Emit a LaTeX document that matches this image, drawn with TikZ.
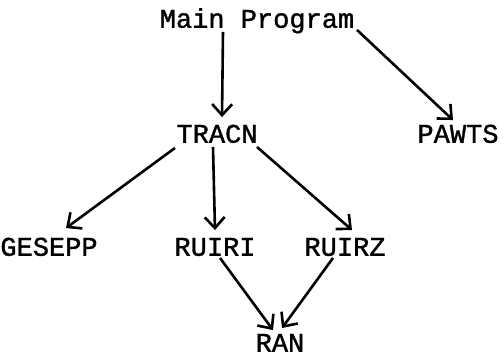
\documentclass[tikz,border=0pt]{standalone}
\usepackage{fontspec}
\newfontfamily\tw{Liberation Mono}[UprightFeatures={FakeBold=1.3}]
\usetikzlibrary{arrows.meta,calc}
\begin{document}
\begin{tikzpicture}[x=1pt,y=-1pt,
  lbl/.style={inner sep=0pt,text height=15.5pt,text depth=0pt,font=\tw\fontsize{27}{30}\selectfont},
  conn/.style={line width=2.6pt,-{Straight Barb[length=11pt,width=20pt,line width=2.6pt]}}]
\useasboundingbox (0,0) rectangle (504,357);
\node[lbl] (main) at (257,20) {Main Program};
\node[lbl] (tracn) at (217,135) {TRACN};
\node[lbl] (pawts) at (458,135) {PAWTS};
\node[lbl] (gesepp) at (49,248) {GESEPP};
\node[lbl] (ruiri) at (215,248) {RUIRI};
\node[lbl] (ruirz) at (345,248) {RUIRZ};
\node[lbl] (ran) at (280,344) {RAN};
\draw[conn] ($(main.south)+(-34,4)$) -- ($(tracn.north)+(5,-10)$);
\draw[conn] ($(main.south)+(100,2)$) -- ($(pawts.north)+(-5,-7)$);
\draw[conn] ($(tracn.south)+(-42,5)$) -- ($(gesepp.north)+(17,-12)$);
\draw[conn] ($(tracn.south)+(-4,4)$) -- ($(ruiri.north)+(0,-10)$);
\draw[conn] ($(tracn.south)+(40,4)$) -- ($(ruirz.north)+(7,-10)$);
\draw[conn] ($(ruiri.south)+(5,2)$) -- ($(ran.north)+(-7,-6)$);
\draw[conn] ($(ruirz.south)+(-12,2)$) -- ($(ran.north)+(2,-8)$);
\end{tikzpicture}
\end{document}
